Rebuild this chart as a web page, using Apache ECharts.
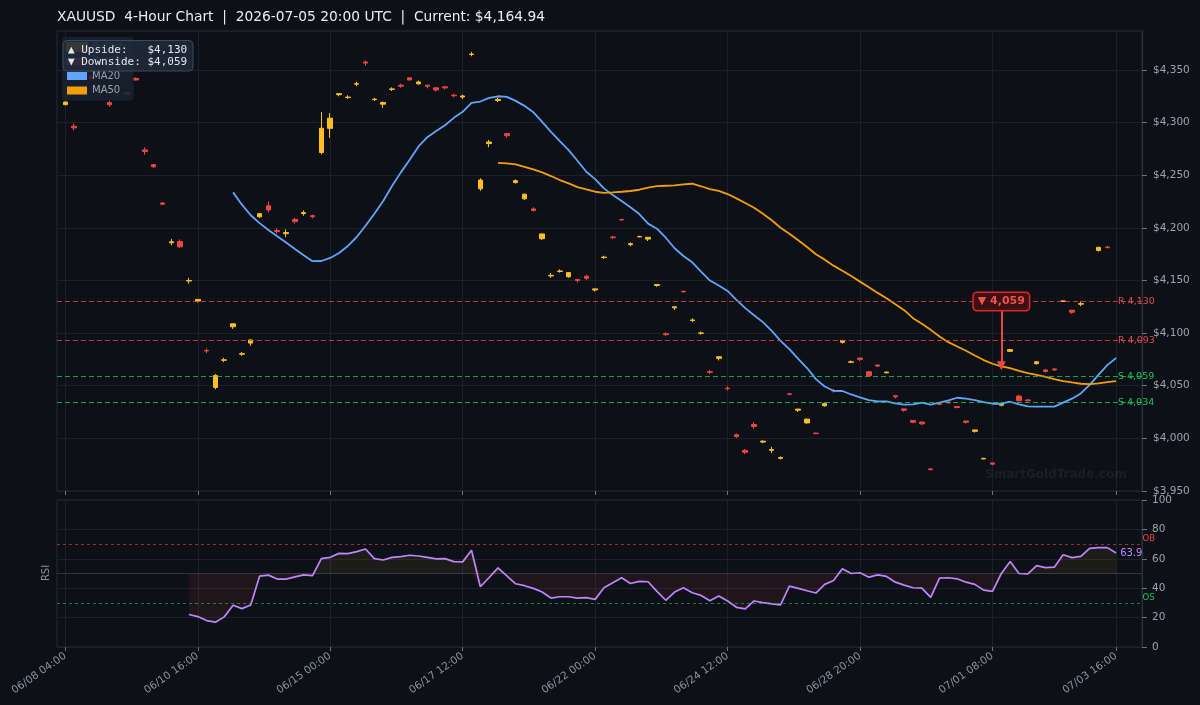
<!DOCTYPE html>
<html>
<head>
<meta charset="utf-8">
<title>XAUUSD 4-Hour Chart</title>
<script src="https://cdn.jsdelivr.net/npm/echarts@6/dist/echarts.min.js"></script>
<style>
  html, body { margin: 0; padding: 0; background: #0d1117; }
  #chart { width: 1200px; height: 705px; }
</style>
</head>
<body>
<div id="chart"></div>
<script>
// --- data (bar index 0..119, 4h bars) ---
var tickIdx = [0, 15, 30, 45, 60, 75, 90, 105, 119];
var tickLabels = ['06/08 04:00', '06/10 16:00', '06/15 00:00', '06/17 12:00', '06/22 00:00',
                  '06/24 12:00', '06/28 20:00', '07/01 08:00', '07/03 16:00'];

// [open, close, low, high]
var candles = [
  [4317, 4319.5, 4316.5, 4320], [4296.5, 4295, 4292.5, 4299], [4360, 4358, 4356, 4362],
  [4344, 4342, 4341, 4345], [4330, 4328.5, 4326.5, 4331], [4319, 4317, 4315, 4321],
  [4352, 4354, 4350.5, 4355], [4328.5, 4327, 4326.5, 4329], [4342, 4340.5, 4340, 4343],
  [4274, 4272.5, 4269.5, 4276.5], [4260, 4258, 4257, 4260.5], [4223.5, 4222.5, 4221.5, 4224.5],
  [4185.8, 4186.8, 4183.5, 4189.5], [4187, 4182, 4181, 4189], [4149.5, 4150, 4147, 4152.5],
  [4130.5, 4132, 4129, 4132.3], [4083.5, 4083, 4081, 4085.5], [4048.4, 4059.8, 4046.5, 4061],
  [4074.2, 4074.6, 4072.5, 4076.5], [4106, 4108.8, 4104, 4109], [4080, 4080.5, 4078.5, 4082],
  [4090.5, 4093.5, 4088, 4094], [4210.5, 4213.5, 4209.5, 4214], [4221, 4217, 4214.5, 4225],
  [4197.5, 4196.5, 4194.5, 4199.5], [4194.5, 4195.5, 4191, 4198.5], [4208, 4206, 4204, 4209.5],
  [4213.5, 4214.5, 4211.5, 4216.5], [4211.5, 4210.5, 4209, 4212.5], [4271.5, 4294.6, 4269.8, 4309.9],
  [4294.5, 4304.2, 4285.5, 4309], [4326.5, 4327.5, 4325, 4327.8], [4323.8, 4324.2, 4322.5, 4326],
  [4336.5, 4337, 4334.5, 4339], [4357.5, 4356.5, 4354, 4359], [4321.8, 4322.2, 4320.5, 4323.5],
  [4317.5, 4319, 4314, 4320], [4331.5, 4332, 4330, 4333.5], [4335.5, 4334.5, 4333, 4337],
  [4342.5, 4340.5, 4340, 4343], [4336.8, 4338.6, 4336, 4340], [4335.5, 4334.5, 4332.5, 4335.8],
  [4333, 4331, 4329.5, 4334], [4334, 4333, 4331.5, 4334.3], [4326, 4325.5, 4324, 4327.5],
  [4324.3, 4325.3, 4322.5, 4326.5], [4364.7, 4365.1, 4363, 4367], [4237.1, 4245.4, 4235.2, 4247],
  [4280, 4281.5, 4276.5, 4283.5], [4321, 4322, 4319.5, 4324], [4289.5, 4287.5, 4285.5, 4290],
  [4243, 4244.8, 4242, 4246], [4227.6, 4232, 4226.5, 4232.3], [4218, 4216.5, 4215.5, 4219.5],
  [4189.7, 4194.2, 4188.5, 4194.5], [4154.3, 4154.9, 4152.5, 4157], [4158.6, 4159, 4157.5, 4160.5],
  [4153.5, 4157.5, 4152.5, 4158], [4151, 4150, 4148, 4151.3], [4154, 4152, 4150.5, 4155.5],
  [4141, 4142, 4139.5, 4142.3], [4171.8, 4172.2, 4170.5, 4173.5], [4191.3, 4190.7, 4189.5, 4192.5],
  [4208, 4207.5, 4207, 4208.5], [4184, 4185, 4182.5, 4186], [4191.4, 4191.8, 4191, 4192.5],
  [4189.3, 4191, 4187.5, 4191.2], [4145.2, 4146.2, 4144, 4146.4], [4099.5, 4098.5, 4097.5, 4100.5],
  [4124, 4125, 4122, 4125.2], [4139.7, 4139.2, 4138.5, 4140.5], [4112, 4112.5, 4110.5, 4114],
  [4099.8, 4100.2, 4098.5, 4101.5], [4063.3, 4062.7, 4061, 4065], [4076, 4077.5, 4074, 4077.7],
  [4047.7, 4047.1, 4045.5, 4049.5], [4003.5, 4001.7, 4000.5, 4004.5], [3988.6, 3986.8, 3985, 3990],
  [4013.2, 4011.3, 4009, 4015.5], [3996.5, 3997.3, 3995.5, 3998.3], [3988.6, 3989.4, 3986, 3992],
  [3981, 3981.8, 3980, 3982.8], [4042.3, 4041.8, 4041, 4043], [4026.8, 4027.8, 4025, 4028],
  [4014.7, 4018.3, 4014, 4018.5], [4005, 4004.5, 4004, 4005.5], [4031, 4033, 4030, 4034],
  [4045.5, 4045, 4043.5, 4047], [4091.3, 4093, 4090, 4093.2], [4072.3, 4072.7, 4071.5, 4074],
  [4076.3, 4075, 4073.5, 4076.5], [4063.3, 4059.5, 4059, 4063.6], [4069.7, 4068.7, 4067.7, 4070],
  [4062.3, 4063, 4061.7, 4063.2], [4040.5, 4039.5, 4038, 4040.8], [4028, 4026.8, 4025.3, 4028.3],
  [4017, 4015.3, 4014.5, 4017.3], [4015.5, 4013.8, 4012.5, 4015.8], [3971, 3970.3, 3969.5, 3971.5],
  [4033, 4032.3, 4031.5, 4033.8], [4034.6, 4033.8, 4033, 4034.8], [4030.3, 4029.3, 4028.5, 4030.8],
  [4016.5, 4015.3, 4014, 4016.7], [4006.7, 4008, 4005.5, 4008.2], [3980.5, 3981, 3980, 3981.5],
  [3976.7, 3975.5, 3974.5, 3976.9], [4031.5, 4032.5, 4030.5, 4032.7], [4082.7, 4084.3, 4082, 4085],
  [4040.2, 4035.8, 4035, 4041.5], [4036.5, 4035.8, 4035, 4037.5], [4071, 4072.7, 4070, 4073.5],
  [4065, 4063.5, 4062.5, 4066], [4066, 4065, 4064, 4066.2], [4130.1, 4130.5, 4129.5, 4131.2],
  [4121.8, 4119.8, 4118.3, 4122], [4127.5, 4128, 4125.5, 4130], null,
  [4178.5, 4181.5, 4177.5, 4182], [4181.8, 4181.2, 4180.5, 4183], null
];

var ma20Start = 19;
var ma20 = [
  4233.7, 4222, 4212, 4204.5, 4198, 4192, 4186, 4180, 4174, 4168.3,
  4168.5, 4171.4, 4176.1, 4182.8, 4191.3, 4202, 4213.4, 4225.5, 4239.7, 4252.7,
  4264.6, 4277.3, 4286.1, 4291.9, 4297.5, 4304.5, 4310.2, 4318.7, 4320, 4323.5,
  4325, 4324.4, 4320.6, 4315.9, 4309.9, 4300.7, 4291.2, 4282.4, 4273.8, 4263.7,
  4253.3, 4246.3, 4237.5, 4231.1, 4225.5, 4219.5, 4213.1, 4204, 4199.2, 4190.6,
  4180.6, 4173.3, 4167.3, 4158.5, 4149.9, 4145.2, 4140.1, 4131.6, 4123.7, 4117,
  4110.4, 4102.2, 4092.7, 4084.8, 4075.6, 4066.8, 4056.3, 4049.3, 4045.2, 4045,
  4041.7, 4038.9, 4036.4, 4035.1, 4035.1, 4033.2, 4032, 4032.2, 4033.9, 4032,
  4033.9, 4036, 4038.6, 4037.7, 4036.4, 4034.5, 4032.9, 4032.9, 4034.8, 4032.2,
  4030.4, 4030.1, 4030.1, 4030.1, 4033.9, 4037.7, 4042.7, 4050.9, 4060.4, 4069.6,
  4076.3
];

var ma50Start = 49;
var ma50 = [
  4261.8, 4261.2, 4260.3, 4258, 4255.5, 4252.7, 4249.2, 4245.4, 4242.2, 4238.7,
  4236.6, 4234.3, 4233.3, 4233.7, 4234.3, 4235, 4236.2, 4238.1, 4239.7, 4240,
  4240.3, 4241.3, 4241.9, 4239.5, 4236.8, 4235.2, 4232.1, 4228, 4223.6, 4219.1,
  4213.4, 4207.2, 4200.1, 4194.4, 4188.2, 4181.8, 4174.9, 4169.8, 4164.1, 4159.3,
  4154.3, 4148.9, 4143.6, 4138.2, 4133.2, 4127.5, 4121.8, 4114.2, 4108.8, 4103.1,
  4096.7, 4091.4, 4087.3, 4083.2, 4078.7, 4074.4, 4070.9, 4068.3, 4066.8, 4064.2,
  4062, 4060.4, 4058.5, 4056.3, 4054.4, 4053.1, 4051.9, 4051.6, 4052.2, 4053.5,
  4054.4
];

var rsiStart = 14;
var rsi = [
  22.1, 20.7, 18, 16.9, 20.5, 28.4, 26.1, 28.6, 48.2, 48.9,
  46.2, 46.2, 47.7, 49.1, 48.6, 60.1, 61, 63.7, 63.5, 64.9,
  66.7, 60.1, 59.2, 61, 61.5, 62.4, 61.9, 61, 59.9, 60.1,
  58.1, 57.9, 65.8, 41, 47.3, 53.8, 48.4, 43, 41.7, 39.9,
  37.4, 33.3, 34.2, 34.2, 33.3, 33.6, 32.4, 40.3, 43.7, 47.1,
  43.2, 44.6, 44.4, 37.8, 31.8, 37.4, 40.3, 36.9, 35.1, 31.5,
  34.7, 31.3, 27, 25.9, 31.3, 30.2, 29.3, 28.6, 41.4, 39.9,
  38.3, 36.7, 42.6, 45.3, 53.2, 50, 50.5, 47.5, 49.1, 48,
  44.1, 42.1, 40.3, 40.1, 33.8, 46.8, 47.1, 46.4, 44.1, 42.6,
  38.7, 37.8, 50, 58.1, 50, 49.8, 55.4, 54, 54.3, 62.8,
  60.8, 61.7, 67.1, 67.6, 67.6, 63.9
];

var resistance = [4130, 4093];
var support = [4059, 4034];
var rsiBands = [70, 30];
var signalIdx = 106;
var signalTip = 4069;

// --- styling ---
var UP = '#fbbf24', DOWN = '#ef4444';
var GRID = '#1b212b';
var FONT = 'DejaVu Sans';
var xMin = -0.94, xMax = 121.93;

function fmtK(v) { return v.toLocaleString('en-US'); }
function withIndex(arr, start) { return arr.map(function (v, i) { return [start + i, v]; }); }

var candleData = [];
candles.forEach(function (c, i) { if (c) candleData.push([i, c[0], c[1], c[2], c[3]]); });
var rsiPts = withIndex(rsi, rsiStart);
var rsiBelow = rsiPts.map(function (p) { return [p[0], Math.min(p[1], 50)]; });
var rsiAbove = rsiPts.map(function (p) { return [p[0], Math.max(p[1], 50)]; });

var levelLines = [];
resistance.forEach(function (v) {
  levelLines.push({ yAxis: v, lineStyle: { color: 'rgba(239,68,68,0.8)' },
    label: { formatter: 'R ' + fmtK(v), color: '#e04848' } });
});
support.forEach(function (v) {
  levelLines.push({ yAxis: v, lineStyle: { color: 'rgba(34,197,94,0.8)' },
    label: { formatter: 'S ' + fmtK(v), color: '#22c55e' } });
});

function xAxisBase(grid) {
  return {
    type: 'value', gridIndex: grid, min: xMin, max: xMax,
    axisLine: { show: false, onZero: false },
    axisTick: { show: true, customValues: tickIdx, length: 4, lineStyle: { color: '#6b7280' } },
    splitLine: { show: true, lineStyle: { color: GRID } }
  };
}
var xTop = xAxisBase(0);
xTop.axisLabel = { show: false };
var xBottom = xAxisBase(1);
xBottom.axisLabel = {
  customValues: tickIdx, rotate: 35, fontSize: 10.5, color: '#8b949e', fontFamily: FONT, margin: 8,
  formatter: function (v) { var k = tickIdx.indexOf(Math.round(v)); return k >= 0 ? tickLabels[k] : ''; }
};

var chart = echarts.init(document.getElementById('chart'));
chart.setOption({
  animation: false,
  backgroundColor: '#0d1117',
  textStyle: { fontFamily: FONT },
  title: {
    text: 'XAUUSD  4-Hour Chart  |  2026-07-05 20:00 UTC  |  Current: $4,164.94',
    left: 52, top: 5,
    textStyle: { color: '#e6edf3', fontSize: 13.8, fontWeight: 'normal', fontFamily: FONT }
  },
  legend: {
    data: [
      { name: 'Bullish', icon: 'rect' }, { name: 'Bearish', icon: 'rect' },
      { name: 'MA20', icon: 'rect' }, { name: 'MA50', icon: 'rect' }
    ],
    orient: 'vertical', left: 62, top: 37, padding: [5, 4], itemGap: 4.5,
    itemWidth: 20, itemHeight: 8, selectedMode: false, z: 5,
    backgroundColor: 'rgba(26,34,48,0.85)', borderRadius: 3,
    textStyle: { color: '#9ca3af', fontSize: 10, fontFamily: FONT }
  },
  grid: [
    { left: 57, right: 58, top: 31, height: 460, show: true, borderColor: '#232a35', borderWidth: 1 },
    { left: 57, right: 58, top: 500, height: 147, show: true, borderColor: '#232a35', borderWidth: 1 }
  ],
  xAxis: [xTop, xBottom],
  yAxis: [
    {
      type: 'value', gridIndex: 0, position: 'right', min: 3950, max: 4387, interval: 50,
      axisLine: { show: true, onZero: false, lineStyle: { color: '#2b3340' } },
      axisTick: { show: true, length: 5, lineStyle: { color: '#6b7280' } },
      axisLabel: { color: '#9ca3af', fontSize: 10.5, margin: 11, showMaxLabel: false,
        formatter: function (v) { return '$' + fmtK(v); } },
      splitLine: { lineStyle: { color: GRID } }
    },
    {
      type: 'value', gridIndex: 1, position: 'right', min: 0, max: 100, interval: 20,
      axisLine: { show: true, onZero: false, lineStyle: { color: '#2b3340' } },
      axisTick: { show: true, length: 5, lineStyle: { color: '#6b7280' } },
      axisLabel: { color: '#9ca3af', fontSize: 10.5, margin: 10 },
      splitLine: { lineStyle: { color: GRID } }
    }
  ],
  series: [
    {
      name: 'Bullish', type: 'candlestick', xAxisIndex: 0, yAxisIndex: 0,
      data: candleData, encode: { x: 0, y: [1, 2, 3, 4] },
      barWidth: 5,
      itemStyle: { color: UP, color0: DOWN, borderColor: UP, borderColor0: DOWN, borderWidth: 1 },
      markLine: {
        silent: true, symbol: 'none',
        lineStyle: { type: [5, 3], width: 1.2 },
        label: { position: 'end', distance: -24, fontSize: 9.5, fontFamily: FONT },
        data: levelLines
      }
    },
    { name: 'Bearish', type: 'line', data: [], itemStyle: { color: DOWN }, lineStyle: { color: DOWN } },
    {
      name: 'MA20', type: 'line', xAxisIndex: 0, yAxisIndex: 0, data: withIndex(ma20, ma20Start),
      symbol: 'none', itemStyle: { color: '#60a5fa' }, lineStyle: { color: '#60a5fa', width: 1.8 },
      z: 3
    },
    {
      name: 'MA50', type: 'line', xAxisIndex: 0, yAxisIndex: 0, data: withIndex(ma50, ma50Start),
      symbol: 'none', itemStyle: { color: '#f59e0b' }, lineStyle: { color: '#f59e0b', width: 1.8 },
      z: 3,
      markLine: {
        silent: true, symbol: ['none', 'triangle'], symbolSize: [9, 9],
        lineStyle: { color: '#ef4444', width: 2, type: 'solid' },
        label: { show: false },
        data: [[{ coord: [signalIdx, resistance[0] - 7] }, { coord: [signalIdx, signalTip] }]]
      },
      markPoint: {
        silent: true, symbol: 'rect', symbolSize: 1, itemStyle: { color: 'rgba(0,0,0,0)' },
        label: {
          show: true, position: 'inside', formatter: '▼ ' + fmtK(support[0]),
          color: '#f05252', fontSize: 11, fontWeight: 'bold', fontFamily: FONT,
          backgroundColor: 'rgba(62,16,20,0.92)', borderColor: '#dc2626', borderWidth: 1.5,
          borderRadius: 3, padding: [3, 4]
        },
        data: [{ coord: [signalIdx, resistance[0]] }]
      }
    },
    {
      type: 'line', xAxisIndex: 1, yAxisIndex: 1, data: rsiBelow, symbol: 'none', silent: true,
      lineStyle: { width: 0 }, areaStyle: { origin: 50, color: 'rgba(239,68,68,0.12)' }
    },
    {
      type: 'line', xAxisIndex: 1, yAxisIndex: 1, data: rsiAbove, symbol: 'none', silent: true,
      lineStyle: { width: 0 }, areaStyle: { origin: 50, color: 'rgba(251,191,36,0.1)' }
    },
    {
      name: 'RSI', type: 'line', xAxisIndex: 1, yAxisIndex: 1, data: rsiPts, symbol: 'none',
      lineStyle: { color: '#c084fc', width: 1.7 }, itemStyle: { color: '#c084fc' }, z: 4,
      endLabel: {
        show: true, color: '#c084fc', fontSize: 10, distance: 4, fontFamily: FONT,
        formatter: function (p) { return p.value[1].toFixed(1); }
      },
      markLine: {
        silent: true, symbol: 'none', label: { show: false },
        data: [
          { yAxis: rsiBands[0], lineStyle: { color: 'rgba(239,68,68,0.6)', type: [3, 3], width: 1 } },
          { yAxis: rsiBands[1], lineStyle: { color: 'rgba(34,197,94,0.6)', type: [3, 3], width: 1 } },
          { yAxis: 50, lineStyle: { color: 'rgba(156,163,175,0.25)', type: 'solid', width: 1 } }
        ]
      },
      markPoint: {
        silent: true, symbol: 'rect', symbolSize: 1, itemStyle: { color: 'rgba(0,0,0,0)' },
        label: { show: true, position: 'right', distance: 0, offset: [0, -5], fontSize: 8.5, fontFamily: FONT },
        data: [
          { coord: [xMax, rsiBands[0]], label: { formatter: 'OB', color: '#ef4444' } },
          { coord: [xMax, rsiBands[1]], label: { formatter: 'OS', color: '#22c55e' } }
        ]
      }
    }
  ],
  graphic: [
    {
      type: 'text', left: 985, top: 469, z: 1, silent: true,
      style: { text: 'SmartGoldTrade.com', fill: 'rgba(255,255,255,0.06)', font: 'bold 12px "DejaVu Sans"' }
    },
    {
      type: 'text', x: 46, y: 573, rotation: Math.PI / 2, silent: true,
      style: { text: 'RSI', fill: '#8b949e', font: '10px "DejaVu Sans"',
        textAlign: 'center', textVerticalAlign: 'middle', align: 'center', verticalAlign: 'middle' }
    },
    { type: 'rect', z: 100, zlevel: 1, silent: true, shape: { x: 63, y: 40.5, width: 130, height: 30.5, r: 4 },
      style: { fill: 'rgba(30,41,59,0.9)', stroke: '#3b4a5f', lineWidth: 1 } },
    { type: 'text', z: 101, zlevel: 1, silent: true, x: 68, y: 44.5,
      style: { text: '▲ Upside:   $' + fmtK(resistance[0]) + '\n▼ Downside: $' + fmtK(support[0]),
        fill: '#e5e7eb', font: '11px "DejaVu Sans Mono"', lineHeight: 12 } }
  ]
});
</script>
</body>
</html>
